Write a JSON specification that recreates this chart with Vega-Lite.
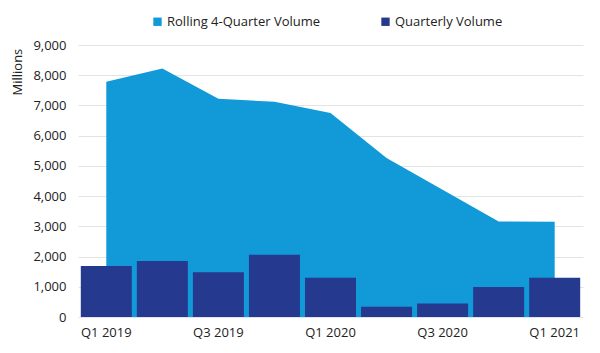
{
  "$schema": "https://vega.github.io/schema/vega-lite/v6.json",
  "autosize": {"type": "none"},
  "width": 505,
  "height": 272,
  "padding": {"left": 78, "top": 45, "right": 17, "bottom": 36},
  "config": {
    "font": "Open Sans",
    "view": {"stroke": null},
    "axis": {"labelFont": "Open Sans", "labelFontSize": 13, "labelColor": "#222222", "titleFont": "Open Sans", "titleFontWeight": "normal", "titleColor": "#222222", "titleFontSize": 13}
  },
  "data": {
    "values": [
      {"quarter": "Q1 2019", "series": "Rolling 4-Quarter Volume", "value": 7780},
      {"quarter": "Q2 2019", "series": "Rolling 4-Quarter Volume", "value": 8220},
      {"quarter": "Q3 2019", "series": "Rolling 4-Quarter Volume", "value": 7220},
      {"quarter": "Q4 2019", "series": "Rolling 4-Quarter Volume", "value": 7120},
      {"quarter": "Q1 2020", "series": "Rolling 4-Quarter Volume", "value": 6750},
      {"quarter": "Q2 2020", "series": "Rolling 4-Quarter Volume", "value": 5260},
      {"quarter": "Q3 2020", "series": "Rolling 4-Quarter Volume", "value": 4210},
      {"quarter": "Q4 2020", "series": "Rolling 4-Quarter Volume", "value": 3160},
      {"quarter": "Q1 2021", "series": "Rolling 4-Quarter Volume", "value": 3150},
      {"quarter": "Q1 2019", "series": "Quarterly Volume", "value": 1690},
      {"quarter": "Q2 2019", "series": "Quarterly Volume", "value": 1850},
      {"quarter": "Q3 2019", "series": "Quarterly Volume", "value": 1480},
      {"quarter": "Q4 2019", "series": "Quarterly Volume", "value": 2060},
      {"quarter": "Q1 2020", "series": "Quarterly Volume", "value": 1300},
      {"quarter": "Q2 2020", "series": "Quarterly Volume", "value": 340},
      {"quarter": "Q3 2020", "series": "Quarterly Volume", "value": 450},
      {"quarter": "Q4 2020", "series": "Quarterly Volume", "value": 990},
      {"quarter": "Q1 2021", "series": "Quarterly Volume", "value": 1300}
    ]
  },
  "encoding": {
    "x": {
      "field": "quarter", "type": "ordinal", "sort": null,
      "scale": {"paddingInner": 0.09, "paddingOuter": 0.05},
      "axis": {"title": null, "labelAngle": 0, "ticks": false, "domain": false, "labelPadding": 9,
        "values": ["Q1 2019", "Q3 2019", "Q1 2020", "Q3 2020", "Q1 2021"]}
    },
    "y": {
      "field": "value", "type": "quantitative",
      "scale": {"domain": [0, 9000], "nice": false},
      "axis": {"title": "Millions", "titleAlign": "left", "titleY": 50, "titlePadding": 8, "values": [0,1000,2000,3000,4000,5000,6000,7000,8000,9000], "format": ",.0f", "labelOverlap": false, "ticks": false, "domain": false, "labelPadding": 12, "gridColor": "#e3e3e3"}
    },
    "color": {
      "field": "series", "type": "nominal",
      "scale": {"domain": ["Rolling 4-Quarter Volume", "Quarterly Volume"], "range": ["#1199d8", "#253a8e"]},
      "legend": {"title": null, "orient": "none", "direction": "horizontal", "legendX": 73, "legendY": -30, "symbolType": "square", "symbolSize": 70, "symbolStrokeWidth": 0, "labelFontSize": 13, "labelFont": "Open Sans", "labelColor": "#222222", "columnPadding": 58, "labelOffset": 3}
    }
  },
  "layer": [
    {"transform": [{"filter": "datum.series === 'Rolling 4-Quarter Volume'"}], "mark": {"type": "area", "opacity": 1}},
    {"transform": [{"filter": "datum.series === 'Quarterly Volume'"}], "mark": {"type": "bar"}}
  ]
}
